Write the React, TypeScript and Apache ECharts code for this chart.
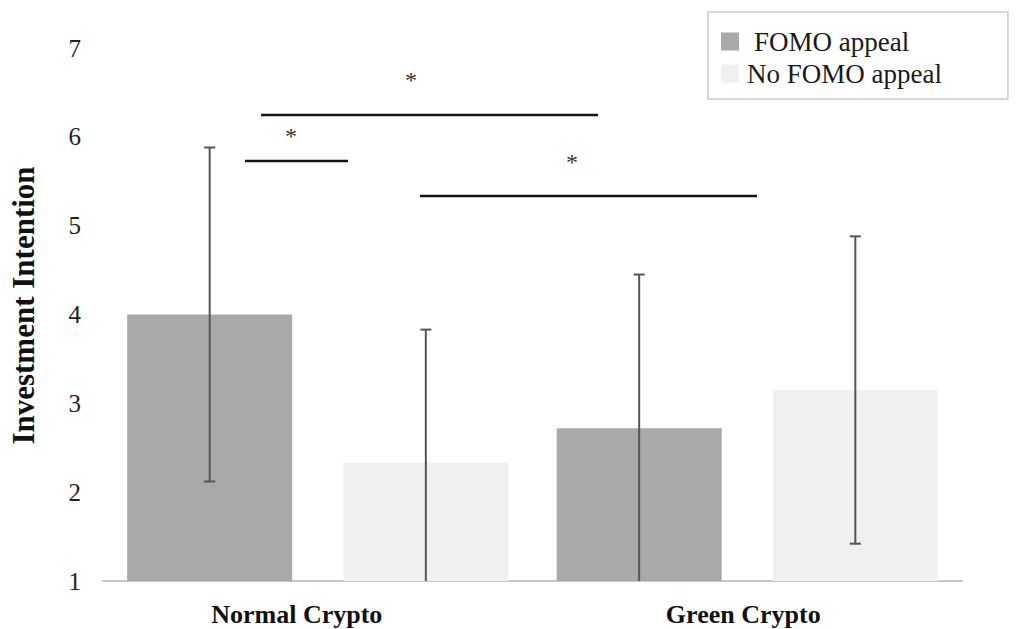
import React, { useEffect, useRef } from "react";
import * as echarts from "echarts";

const categories = ["Normal Crypto", "Green Crypto"];
const seriesNames = ["FOMO appeal", "No FOMO appeal"];
const fomoMeans = [4.0, 2.72];
const fomoSD = [1.88, 1.73];
const noFomoMeans = [2.33, 3.15];
const noFomoSD = [1.5, 1.73];
const yMin = 1;
const yMax = 7;
const yInterval = 1;
const axisTitle = "Investment Intention";
const sigMark = "*";

const FONT = "Liberation Serif";
const BAR_W = 165;
const GAP_RATIO = 0.31;
const OFFSET = (BAR_W + BAR_W * GAP_RATIO) / 2;

function makeErr(name: string, means: number[], sds: number[], sign: number) {
  return {
    name,
    type: "custom",
    z: 10,
    data: means.map((m, i) => [i, m, sds[i]]),
    encode: { x: 0, y: 1 },
    renderItem: (params: any, api: any) => {
      const i = api.value(0);
      const m = api.value(1);
      const sd = api.value(2);
      const lowRaw = m - sd;
      const lo = Math.max(yMin, lowRaw);
      const hi = m + sd;
      const top = api.coord([i, hi]);
      const bot = api.coord([i, lo]);
      const x = top[0] + sign * OFFSET;
      const style = { stroke: "#555555", lineWidth: 2 };
      const children: any[] = [
        { type: "line", shape: { x1: x, y1: top[1], x2: x, y2: bot[1] }, style },
        { type: "line", shape: { x1: x - 5.5, y1: top[1], x2: x + 5.5, y2: top[1] }, style },
      ];
      if (lowRaw >= yMin) {
        children.push({ type: "line", shape: { x1: x - 5.5, y1: bot[1], x2: x + 5.5, y2: bot[1] }, style });
      }
      return { type: "group", children };
    },
  };
}

export default function App() {
  const ref = useRef<HTMLDivElement>(null);
  useEffect(() => {
    if (!ref.current) return;
    const chart = echarts.init(ref.current, null, { renderer: "svg" });
    const lineStyle = { stroke: "#151515", lineWidth: 2.5 };
    const starStyle = {
      fill: "#333333",
      fontFamily: FONT,
      fontSize: 24,
      align: "center",
      verticalAlign: "middle",
    };
    chart.setOption({
      animation: false,
      backgroundColor: "#ffffff",
      textStyle: { fontFamily: FONT },
      grid: { left: 98, right: 59, top: 48, bottom: 48, containLabel: false },
      legend: {
        data: seriesNames,
        orient: "vertical",
        left: 708,
        top: 12,
        padding: [16, 66, 12, 13],
        itemWidth: 18,
        itemHeight: 18,
        itemGap: 5,
        borderColor: "#cccccc",
        borderWidth: 1.5,
        icon: "rect",
        formatter: (n: string) => (n === seriesNames[0] ? `{a|${n}}` : `{b|${n}}`),
        textStyle: {
          fontFamily: FONT,
          fontSize: 27,
          color: "#1a1a1a",
          rich: {
            a: { fontFamily: FONT, fontSize: 27, color: "#1a1a1a", padding: [0, 0, 0, 10] },
            b: { fontFamily: FONT, fontSize: 27, color: "#1a1a1a", padding: [0, 0, 0, 3] },
          },
        },
      },
      xAxis: {
        type: "category",
        data: categories,
        axisLine: { show: true, lineStyle: { color: "#c8c8c8", width: 2 } },
        axisTick: { show: false },
        axisLabel: {
          margin: 20,
          formatter: (v: string, idx: number) => (idx === 0 ? `{a|${v}}` : `{b|${v}}`),
          rich: {
            a: { fontFamily: FONT, fontSize: 26, fontWeight: "bold", color: "#111", padding: [0, 42, 0, 0] },
            b: { fontFamily: FONT, fontSize: 26, fontWeight: "bold", color: "#111", padding: [0, 8, 0, 0] },
          },
        },
      },
      yAxis: {
        type: "value",
        min: yMin,
        max: yMax,
        interval: yInterval,
        axisLine: { show: false },
        axisTick: { show: false },
        splitLine: { show: false },
        axisLabel: { margin: 22, fontFamily: FONT, fontSize: 25, color: "#222" },
        name: axisTitle,
        nameLocation: "middle",
        nameGap: 64,
        nameRotate: 90,
        nameTextStyle: {
          fontFamily: FONT,
          fontSize: 31,
          fontWeight: "bold",
          color: "#111",
          padding: [0, 0, 0, 18],
        },
      },
      series: [
        {
          name: seriesNames[0],
          type: "bar",
          data: fomoMeans,
          barWidth: BAR_W,
          barGap: `${GAP_RATIO * 100}%`,
          itemStyle: { color: "#a9a9a9" },
        },
        {
          name: seriesNames[1],
          type: "bar",
          data: noFomoMeans,
          barWidth: BAR_W,
          barGap: `${GAP_RATIO * 100}%`,
          itemStyle: { color: "#f0f0f0" },
        },
        makeErr("errFomo", fomoMeans, fomoSD, -1),
        makeErr("errNoFomo", noFomoMeans, noFomoSD, 1),
      ],
      graphic: [
        { type: "line", shape: { x1: 261, y1: 115, x2: 598, y2: 115 }, style: lineStyle },
        { type: "line", shape: { x1: 245, y1: 161, x2: 348, y2: 161 }, style: lineStyle },
        { type: "line", shape: { x1: 420, y1: 196, x2: 757, y2: 196 }, style: lineStyle },
        { type: "text", x: 411, y: 80, style: { ...starStyle, text: sigMark } },
        { type: "text", x: 291, y: 136, style: { ...starStyle, text: sigMark } },
        { type: "text", x: 572, y: 162, style: { ...starStyle, text: sigMark } },
      ],
    });
    return () => chart.dispose();
  }, []);
  return (
    <div
      ref={ref}
      style={{ position: "fixed", left: 0, top: 0, width: 1021, height: 629, background: "#fff" }}
    />
  );
}
